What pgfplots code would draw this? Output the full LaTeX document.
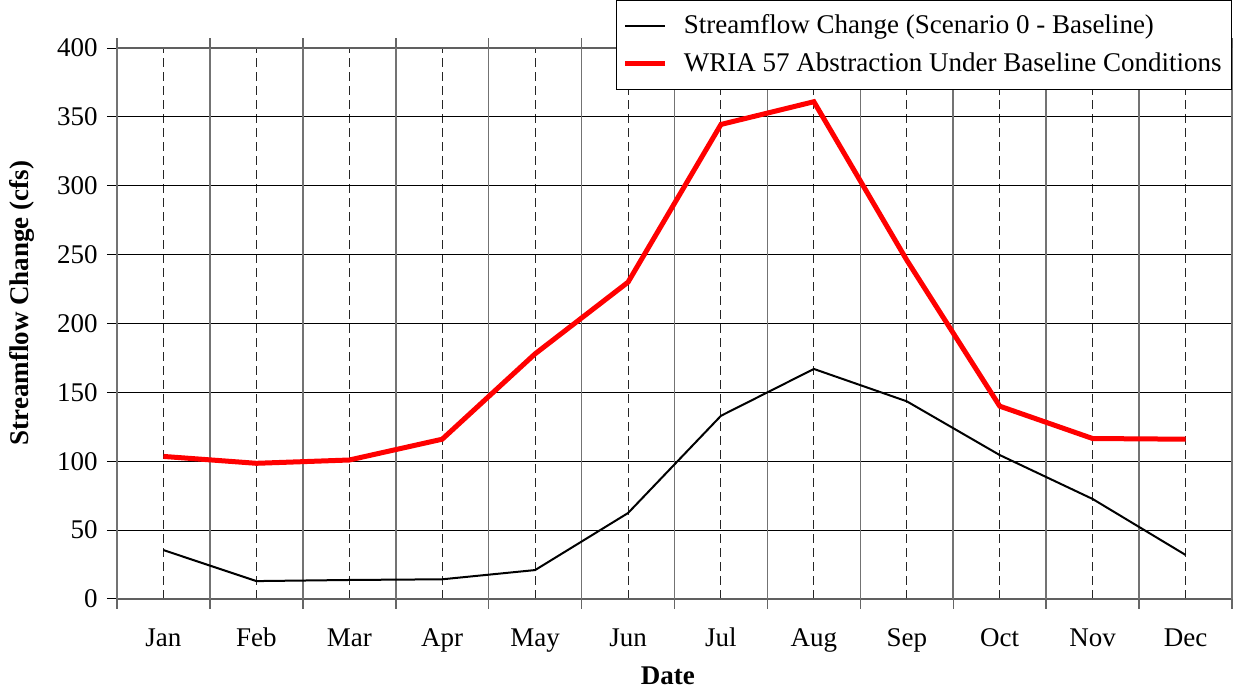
\documentclass[border=0pt]{standalone}
\usepackage{fontspec}
\setmainfont{Liberation Serif}
\usepackage{pgfplots}
\pgfplotsset{compat=1.18}
\begin{document}
\fontsize{13.5pt}{16pt}\selectfont
\begin{tikzpicture}
\useasboundingbox (-58.5pt,-45.5pt) rectangle (558pt,299.5pt);
\begin{axis}[
  scale only axis, width=557.5pt, height=275.5pt,
  xmin=0, xmax=12, ymin=0, ymax=400,
  xtick={0.5,1.5,...,11.5},
  xticklabels={Jan,Feb,Mar,Apr,May,Jun,Jul,Aug,Sep,Oct,Nov,Dec},
  xtick style={draw=none},
  ytick={0,50,...,400},
  ytick style={black, line width=0.5pt},
  tick align=outside,
  major tick length=5pt,
  /pgf/number format/assume math mode=true,
  ticklabel style={font=\fontsize{13.5pt}{16pt}\selectfont},
  xticklabel style={anchor=center, text height=9pt, text depth=3pt, yshift=-16pt},
  xmajorgrids, ymajorgrids,
  x grid style={black!85, dash pattern=on 4.5pt off 2.5pt, line width=0.5pt},
  y grid style={black, line width=0.45pt},
  extra x ticks={0,1,...,12},
  extra x tick labels={},
  extra x tick style={grid=major, x grid style={solid, gray!90!black, line width=0.8pt}, xtick style={draw=gray!80!black, line width=0.75pt}},
  axis line style={gray!75!black, line width=1.4pt},
  xlabel={\textbf{Date}},
  ylabel={\textbf{Streamflow Change (cfs)}},
  every axis x label/.style={at={(axis description cs:0.494,-0.1397)}, anchor=center, font=\fontsize{13.5pt}{16pt}\selectfont},
  every axis y label/.style={at={(axis description cs:-0.0852,0.537)}, anchor=center, rotate=90, font=\fontsize{13.5pt}{16pt}\selectfont},
  legend style={at={(axis description cs:1,1.0871)}, anchor=north east, draw=black, line width=0.5pt, fill=white,
    font=\fontsize{13.5pt}{16pt}\selectfont, row sep=3.5pt, inner xsep=3pt, inner ysep=5pt},
  legend cell align=left,
  legend image code/.code={\draw[#1] (0pt,0pt) -- (20pt,0pt); \path (26pt,0pt);},
]
\addplot[black, line width=1pt] coordinates {
(0.5,35.5) (1.5,13) (2.5,13.8) (3.5,14.3) (4.5,21) (5.5,62.4)
(6.5,133) (7.5,167) (8.5,143.5) (9.5,104.5) (10.5,72.6) (11.5,32)};
\addlegendentry{Streamflow Change (Scenario 0 - Baseline)}
\addplot[red, line width=2.5pt] coordinates {
(0.5,103.5) (1.5,98.5) (2.5,100.9) (3.5,116) (4.5,178) (5.5,230)
(6.5,344.5) (7.5,361) (8.5,246) (9.5,140) (10.5,116.5) (11.5,116)};
\addlegendentry{WRIA 57 Abstraction Under Baseline Conditions}
\end{axis}
\end{tikzpicture}
\end{document}
